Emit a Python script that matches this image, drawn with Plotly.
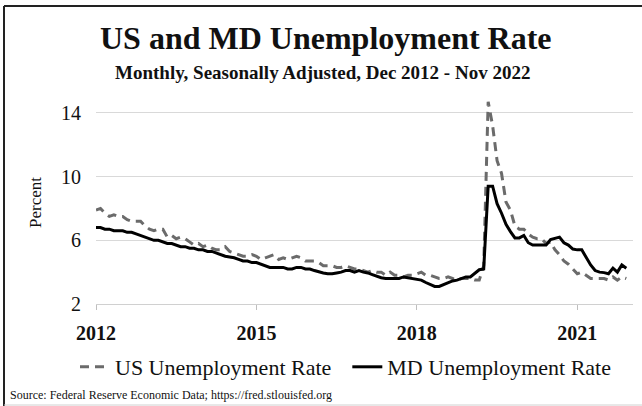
import pandas as pd
import plotly.graph_objects as go

# ---- data ----
months = [d.strftime("%b %Y") for d in pd.date_range("2012-12-01", periods=120, freq="MS")]

us_rate = [
    7.9,
    8.0, 7.7, 7.5, 7.6, 7.5, 7.5, 7.3, 7.2, 7.2, 7.2, 6.9, 6.7,
    6.6, 6.7, 6.7, 6.2, 6.3, 6.1, 6.2, 6.1, 5.9, 5.7, 5.8, 5.6,
    5.7, 5.5, 5.4, 5.4, 5.6, 5.3, 5.2, 5.1, 5.0, 5.0, 5.1, 5.0,
    4.8, 4.9, 5.0, 5.1, 4.8, 4.9, 4.8, 4.9, 5.0, 4.9, 4.7, 4.7,
    4.7, 4.6, 4.4, 4.4, 4.4, 4.3, 4.3, 4.4, 4.3, 4.2, 4.2, 4.1,
    4.0, 4.1, 4.0, 4.0, 3.8, 4.0, 3.8, 3.8, 3.7, 3.8, 3.8, 3.9,
    4.0, 3.8, 3.8, 3.7, 3.6, 3.6, 3.7, 3.6, 3.5, 3.6, 3.6, 3.6,
    3.5, 3.5, 4.4, 14.7, 13.2, 11.0, 10.2, 8.4, 7.9, 6.9, 6.7, 6.7,
    6.4, 6.2, 6.1, 6.1, 5.8, 5.9, 5.4, 5.1, 4.7, 4.5, 4.2, 3.9,
    4.0, 3.8, 3.6, 3.6, 3.6, 3.6, 3.5, 3.7, 3.5, 3.7, 3.6,
]

md_rate = [
    6.8,
    6.8, 6.7, 6.7, 6.6, 6.6, 6.6, 6.5, 6.5, 6.4, 6.3, 6.2, 6.1,
    6.0, 6.0, 5.9, 5.8, 5.8, 5.7, 5.6, 5.6, 5.5, 5.5, 5.4, 5.4,
    5.3, 5.3, 5.2, 5.1, 5.0, 4.95, 4.9, 4.8, 4.7, 4.7, 4.6, 4.6,
    4.5, 4.4, 4.3, 4.3, 4.3, 4.3, 4.2, 4.2, 4.3, 4.3, 4.2, 4.2,
    4.1, 4.0, 3.95, 3.9, 3.9, 3.95, 4.0, 4.1, 4.1, 4.0, 4.1, 4.0,
    3.95, 3.85, 3.75, 3.65, 3.6, 3.6, 3.6, 3.6, 3.7, 3.65, 3.6, 3.55,
    3.5, 3.35, 3.2, 3.1, 3.1, 3.2, 3.35, 3.45, 3.5, 3.6, 3.7, 3.7,
    3.95, 4.15, 4.2, 9.4, 9.4, 8.3, 7.7, 7.0, 6.55, 6.15, 6.15, 6.3,
    5.85, 5.7, 5.7, 5.7, 5.7, 6.05, 6.15, 6.2, 5.85, 5.7, 5.45, 5.4,
    5.4, 4.9, 4.45, 4.1, 4.0, 3.97, 3.9, 4.25, 4.0, 4.45, 4.25,
]

tick_months = ["Dec 2012", "Dec 2015", "Dec 2018", "Dec 2021"]
tick_labels = ["2012", "2015", "2018", "2021"]
y_ticks = [2, 6, 10, 14]

title = "US and MD Unemployment Rate"
subtitle = "Monthly, Seasonally Adjusted, Dec 2012 - Nov 2022"
source = "Source: Federal Reserve Economic Data; https://fred.stlouisfed.org"

FONT = "Liberation Serif"
W, H = 642, 406
L, R, T, B = 96, 9, 97, 102
PW, PH = W - L - R, H - T - B


def px(x):
    return (x - L) / PW


def py(y):
    return (H - B - y) / PH


fig = go.Figure()
fig.add_trace(go.Scatter(
    x=months, y=us_rate, mode="lines", name="US Unemployment Rate\u00a0\u00a0",
    line=dict(color="#6b6b6b", width=3, dash="9px,6px"),
))
fig.add_trace(go.Scatter(
    x=months, y=md_rate, mode="lines", name="MD Unemployment Rate",
    line=dict(color="#000000", width=3),
))

fig.update_layout(
    width=W, height=H,
    margin=dict(l=L, r=R, t=T, b=B),
    paper_bgcolor="white", plot_bgcolor="white",
    font=dict(family=FONT, color="#111111"),
    showlegend=True,
    legend=dict(
        orientation="h",
        x=px(75), y=py(346), xanchor="left", yanchor="top",
        font=dict(size=22, family=FONT, color="#111111"),
        itemwidth=30,
        bgcolor="rgba(0,0,0,0)",
    ),
    xaxis=dict(
        type="category", range=[0, 120.5],
        tickmode="array", tickvals=tick_months, ticktext=tick_labels,
        ticks="outside", ticklen=5, tickcolor="#bfbfbf", tickwidth=1,
        showline=True, linecolor="#d0d0d0", linewidth=1,
        showgrid=False, zeroline=False,
        tickfont=dict(size=20, family=FONT, color="#111111", weight="bold"),
        ticklabelstandoff=6,
    ),
    yaxis=dict(
        range=[2, 15], tickmode="array", tickvals=y_ticks,
        showgrid=True, gridcolor="#d9d9d9", gridwidth=1,
        zeroline=False, showline=False,
        tickfont=dict(size=20, family=FONT, color="#111111"),
        ticklabelstandoff=14,
    ),
    annotations=[
        dict(text=title, x=px(326), y=py(38), xref="paper", yref="paper",
             showarrow=False, xanchor="center", yanchor="middle",
             font=dict(size=32, family=FONT, color="#111111", weight="bold")),
        dict(text=subtitle, x=px(322), y=py(73), xref="paper", yref="paper",
             showarrow=False, xanchor="center", yanchor="middle",
             font=dict(size=19, family=FONT, color="#111111", weight="bold")),
        dict(text="Percent", x=px(35), y=py(203), xref="paper", yref="paper",
             showarrow=False, xanchor="center", yanchor="middle", textangle=-90,
             font=dict(size=17, family=FONT, color="#111111")),
        dict(text=source, x=px(8), y=py(395), xref="paper", yref="paper",
             showarrow=False, xanchor="left", yanchor="middle",
             font=dict(size=12, family=FONT, color="#111111")),
    ],
    shapes=[
        dict(type="line", xref="paper", yref="paper", x0=px(4), x1=px(642), y0=py(6), y1=py(6),
             line=dict(color="#222222", width=2)),
        dict(type="line", xref="paper", yref="paper", x0=px(4), x1=px(4), y0=py(6), y1=py(406),
             line=dict(color="#222222", width=2)),
        dict(type="line", xref="paper", yref="paper", x0=px(4), x1=px(642), y0=py(405), y1=py(405),
             line=dict(color="#d0d0d0", width=1)),
    ],
)

fig.write_html("out.html")
